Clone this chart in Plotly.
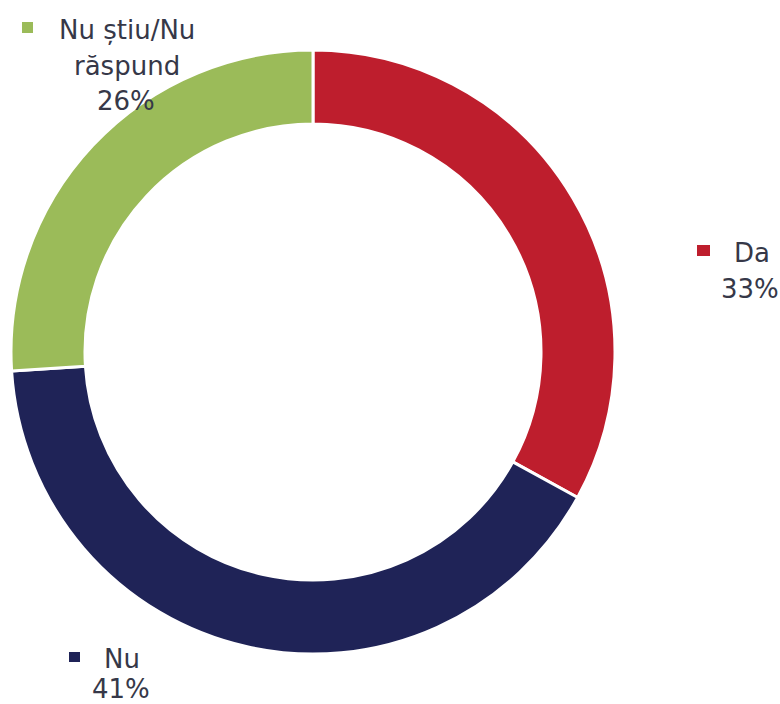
import plotly.graph_objects as go

labels = ["Da", "Nu", "Nu știu/Nu răspund"]
values = [33, 41, 26]
colors = ["#BE1E2D", "#1F2357", "#9BBB59"]

W, H = 780, 704
TXT = "#363848"
FONT = "DejaVu Sans"

fig = go.Figure(go.Pie(
    labels=labels, values=values, sort=False, direction="clockwise", rotation=0,
    hole=0.755, marker=dict(colors=colors, line=dict(color="white", width=3)),
    textinfo="none", hoverinfo="label+percent", showlegend=False,
    domain=dict(x=[11 / W, 615 / W], y=[1 - 654 / H, 1 - 50 / H]),
))

def px(x, y):
    return x / W, 1 - y / H

def add_text(t, x, y, size=26):
    xx, yy = px(x, y)
    fig.add_annotation(text=t, x=xx, y=yy, xref="paper", yref="paper",
                       xanchor="center", yanchor="middle", showarrow=False,
                       font=dict(family=FONT, size=size, color=TXT))

def add_square(x0, y0, x1, y1, c):
    a, b = px(x0, y0)
    cc, d = px(x1, y1)
    fig.add_shape(type="rect", xref="paper", yref="paper", x0=a, y0=d, x1=cc, y1=b,
                  fillcolor=c, line=dict(width=0))

pcts = [f"{v}%" for v in values]

# Green label (top-left)
add_square(22, 22, 33, 33, colors[2])
add_text("Nu știu/Nu", 127, 30)
add_text("răspund", 127, 66)
add_text(pcts[2], 126, 101)

# Red label (right)
add_square(697, 245, 710, 256, colors[0])
add_text("Da", 752, 253)
add_text(pcts[0], 750, 289)

# Navy label (bottom-left)
add_square(69, 652, 80, 662, colors[1])
add_text("Nu", 122, 659)
add_text(pcts[1], 121, 689)

fig.update_layout(width=W, height=H, margin=dict(l=0, r=0, t=0, b=0),
                  paper_bgcolor="white", plot_bgcolor="white")
fig.write_html("out.html", config={"displayModeBar": False},
               post_script="document.body.style.margin='0';document.body.style.overflow='hidden';")
